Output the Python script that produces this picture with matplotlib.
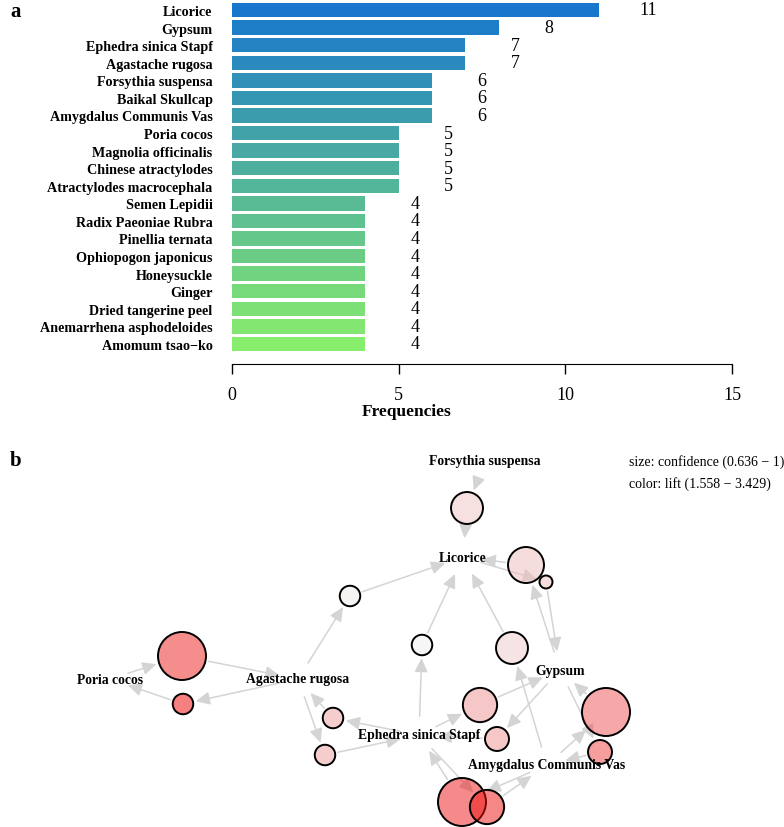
"""Herb frequency bar chart (a) and association-rule graph (b)."""
import numpy as np
import matplotlib
matplotlib.use("Agg")
import matplotlib.pyplot as plt
from matplotlib.patches import Circle, FancyArrowPatch
from matplotlib.colors import to_rgb

plt.rcParams.update({"font.family": ["Liberation Serif", "DejaVu Serif"]})

# ---- panel a data
herbs = ["Licorice", "Gypsum", "Ephedra sinica Stapf", "Agastache rugosa",
         "Forsythia suspensa", "Baikal Skullcap", "Amygdalus Communis Vas",
         "Poria cocos", "Magnolia officinalis", "Chinese atractylodes",
         "Atractylodes macrocephala", "Semen Lepidii", "Radix Paeoniae Rubra",
         "Pinellia ternata", "Ophiopogon japonicus", "Honeysuckle", "Ginger",
         "Dried tangerine peel", "Anemarrhena asphodeloides", "Amomum tsao\u2212ko"]
freq = [11, 8, 7, 7, 6, 6, 6, 5, 5, 5, 5, 4, 4, 4, 4, 4, 4, 4, 4, 4]
x_ticks = [0, 5, 10, 15]

# ---- panel b data (layout units, y grows downward)
items = ["Forsythia suspensa", "Licorice", "Gypsum", "Poria cocos",
         "Agastache rugosa", "Ephedra sinica Stapf", "Amygdalus Communis Vas"]
item_x = [4.85, 4.63, 5.60, 1.10, 2.98, 4.19, 5.47]
item_y = [4.62, 5.58, 6.71, 6.80, 6.80, 7.36, 7.66]

rule_lhs = ["Forsythia suspensa", "Gypsum", "Licorice", "Agastache rugosa",
            "Poria cocos", "Agastache rugosa", "Ephedra sinica Stapf",
            "Agastache rugosa", "Ephedra sinica Stapf", "Amygdalus Communis Vas",
            "Ephedra sinica Stapf", "Gypsum", "Amygdalus Communis Vas", "Gypsum",
            "Amygdalus Communis Vas", "Ephedra sinica Stapf"]
rule_rhs = ["Licorice", "Licorice", "Gypsum", "Licorice",
            "Agastache rugosa", "Poria cocos", "Agastache rugosa",
            "Ephedra sinica Stapf", "Licorice", "Licorice",
            "Gypsum", "Ephedra sinica Stapf", "Gypsum", "Amygdalus Communis Vas",
            "Ephedra sinica Stapf", "Amygdalus Communis Vas"]
confidence = [0.833, 0.875, 0.636, 0.714, 1.0, 0.714, 0.714, 0.714,
              0.714, 0.833, 0.857, 0.75, 1.0, 0.75, 1.0, 0.857]
lift = [1.90, 1.95, 1.95, 1.60, 3.20, 3.429, 2.20, 2.20,
        1.558, 1.85, 2.30, 2.30, 2.80, 2.95, 3.25, 3.30]
rule_x = [4.67, 5.26, 5.46, 3.50, 1.82, 1.83, 3.33, 3.25,
          4.22, 5.12, 4.80, 4.97, 6.06, 6.00, 4.62, 4.87]
rule_y = [5.09, 5.66, 5.83, 5.97, 6.57, 7.05, 7.19, 7.56,
          6.46, 6.49, 7.06, 7.40, 7.13, 7.53, 8.03, 8.08]

W, H = 784, 828
fig = plt.figure(figsize=(W / 100, H / 100), dpi=100)

# ---------------- panel a
ax = fig.add_axes([232 / W, 1 - 365 / H, 500 / W, 365 / H])
n = len(herbs)
c_top, c_bot = np.array(to_rgb("#1877CC")), np.array(to_rgb("#88EC6C"))
t = np.linspace(0, 1, n)[:, None]
bar_colors = c_top * (1 - t) + c_bot * t
ypos = np.arange(n)
ax.barh(ypos, freq, height=0.82, color=bar_colors)
for y, v in zip(ypos, freq):
    ax.text(v + 1.5, y, str(v), ha="center", va="center", fontsize=13)
ax.set_xlim(0, 15)
ax.set_ylim(n - 0.5 + 0.64, -0.625)
ax.set_yticks(ypos)
ax.set_yticklabels(herbs, fontweight="bold", fontsize=10.2)
ax.tick_params(axis="y", length=0, pad=14)
ax.set_xticks(x_ticks)
ax.tick_params(axis="x", length=7, width=1, pad=9, labelsize=13)
for s in ["top", "right", "left"]:
    ax.spines[s].set_visible(False)
ax.spines["bottom"].set_bounds(0, 15)
fig.text(407 / W, 1 - 412 / H, "Frequencies", ha="center", va="center",
         fontweight="bold", fontsize=12.5)
fig.text(10 / W, 1 - 12 / H, "a", ha="left", va="center", fontweight="bold", fontsize=15)

# ---------------- panel b
bx = fig.add_axes([0, 0, 1, 388 / H])
bx.set_xlim(0, W / 100)
bx.set_ylim(H / 100, 4.40)
bx.axis("off")

r_min, r_max = 0.065, 0.24
c_lo, c_hi = min(confidence), max(confidence)
l_lo, l_hi = min(lift), max(lift)
radius = [r_min + (c - c_lo) / (c_hi - c_lo) * (r_max - r_min) for c in confidence]
grey, red = np.array(to_rgb("#EEEEEE")), np.array(to_rgb("#EE0000"))
fill = [grey + (l - l_lo) / (l_hi - l_lo) * (red - grey) for l in lift]

item_pos = {k: (x, y) for k, x, y in zip(items, item_x, item_y)}
item_r = 0.16


def edge(p0, r0, p1, r1):
    p0, p1 = np.array(p0), np.array(p1)
    d = p1 - p0
    u = d / np.hypot(*d)
    a = FancyArrowPatch(p0 + u * r0, p1 - u * r1, arrowstyle="-|>,head_length=0.6,head_width=0.28",
                        mutation_scale=14, color="#D4D4D4", lw=1.1, zorder=1)
    bx.add_patch(a)


for i in range(len(rule_lhs)):
    rp = (rule_x[i], rule_y[i])
    edge(item_pos[rule_lhs[i]], item_r, rp, radius[i])
    edge(rp, radius[i], item_pos[rule_rhs[i]], item_r)

for i in range(len(rule_lhs)):
    bx.add_patch(Circle((rule_x[i], rule_y[i]), radius[i], facecolor=(*fill[i], 0.5),
                        edgecolor="black", lw=1.4, zorder=2))

for k in items:
    bx.text(*item_pos[k], k, ha="center", va="center", fontweight="bold",
            fontsize=9.8, zorder=3)

fig.text(10 / W, 1 - 461 / H, "b", ha="left", va="center", fontweight="bold", fontsize=15)
fig.text(629 / W, 1 - 462 / H, "size: confidence (0.636 \u2212 1)", ha="left",
         va="center", fontsize=10)
fig.text(629 / W, 1 - 484 / H, "color: lift (1.558 \u2212 3.429)", ha="left",
         va="center", fontsize=10)

fig.savefig("out.png", dpi=100)
